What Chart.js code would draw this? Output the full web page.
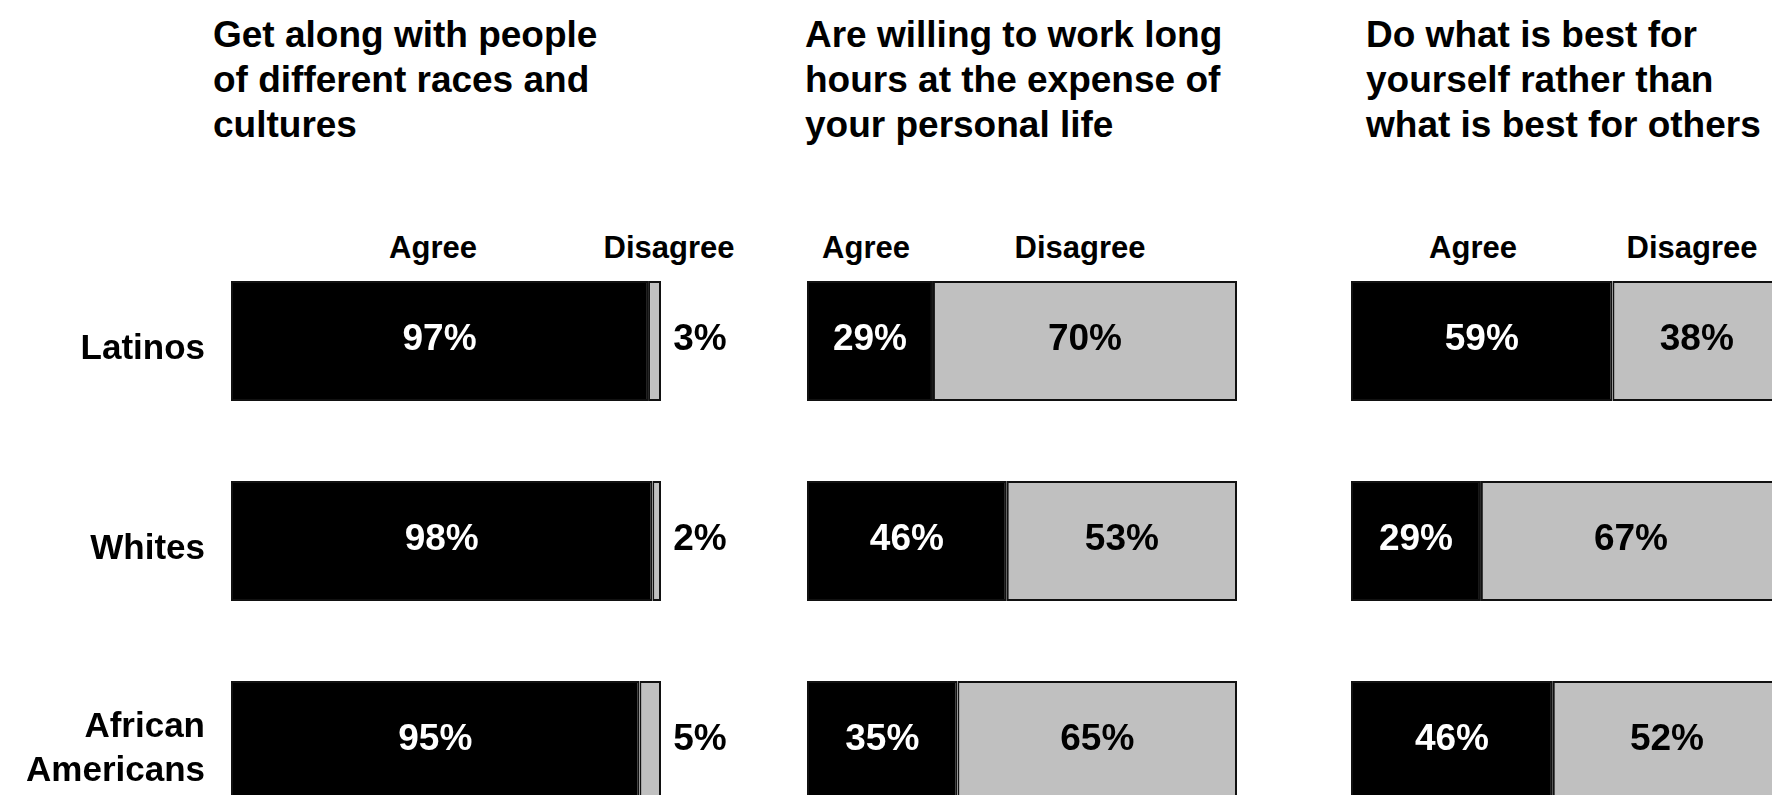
<!DOCTYPE html>
<html>
<head>
<meta charset="utf-8">
<script src="https://cdn.jsdelivr.net/npm/chart.js@4.4.1/dist/chart.umd.min.js"></script>
<style>
  html, body { margin: 0; padding: 0; background: #fff; overflow: hidden; }
  #stage { position: relative; width: 1772px; height: 795px; overflow: hidden; font-family: "Liberation Sans", Arial, sans-serif; }
  canvas { position: absolute; top: 0; }
  .title { position: absolute; top: 12px; font-weight: bold; font-size: 37px; line-height: 45px; color: #000; white-space: nowrap; }
  .head { position: absolute; top: 230px; font-weight: bold; font-size: 31px; line-height: 36px; color: #000; transform: translateX(-50%); white-space: nowrap; }
</style>
</head>
<body>
<div id="stage">
  <div class="title" style="left:213px">Get along with people<br>of different races and<br>cultures</div>
  <div class="title" style="left:805px">Are willing to work long<br>hours at the expense of<br>your personal life</div>
  <div class="title" style="left:1366px">Do what is best for<br>yourself rather than<br>what is best for others</div>

  <div class="head" style="left:433px">Agree</div>
  <div class="head" style="left:669px">Disagree</div>
  <div class="head" style="left:866px">Agree</div>
  <div class="head" style="left:1080px">Disagree</div>
  <div class="head" style="left:1473px">Agree</div>
  <div class="head" style="left:1692px">Disagree</div>

  <canvas id="c1" width="770" height="900" style="left:0px"></canvas>
  <canvas id="c2" width="480" height="900" style="left:780px"></canvas>
  <canvas id="c3" width="470" height="900" style="left:1320px"></canvas>
</div>

<script>
// Groups (rows)
const groups = ['Latinos', 'Whites', ['African', 'Americans']];

// Panel 1: Get along with people of different races and cultures
const agreeGetAlong = [97, 98, 95];
const disagreeGetAlong = [3, 2, 5];

// Panel 2: Are willing to work long hours at the expense of your personal life
const agreeLongHours = [29, 46, 35];
const disagreeLongHours = [70, 53, 65];

// Panel 3: Do what is best for yourself rather than what is best for others
const agreeBestSelf = [59, 29, 46];
const disagreeBestSelf = [38, 67, 52];

const FONT = '"Liberation Sans", Arial, sans-serif';

// bars fill the full width: each segment is its share of agree+disagree
function share(part, a, b) {
    return part.map((v, i) => v / (a[i] + b[i]) * 100);
}

// draw value labels on the bar segments
const valueLabels = {
    id: 'valueLabels',
    afterDatasetsDraw(chart) {
        const ctx = chart.ctx;
        ctx.save();
        ctx.font = 'bold 37px ' + FONT;
        ctx.textAlign = 'center';
        ctx.textBaseline = 'middle';
        chart.data.datasets.forEach((ds, di) => {
            chart.getDatasetMeta(di).data.forEach((bar, i) => {
                const txt = ds.raw[i] + '%';
                let x = (bar.x + bar.base) / 2;
                if (ds.outside) x = bar.x + 39;
                ctx.fillStyle = ds.labelColor;
                ctx.fillText(txt, x, bar.y - 1);
            });
        });
        ctx.restore();
    }
};

function makeChart(id, agree, disagree, opts) {
    const ctx = document.getElementById(id).getContext('2d');
    const yAxis = {
        stacked: true,
        display: opts.showGroups,
        grid: { display: false, drawTicks: false },
        border: { display: false },
        ticks: {
            color: '#000',
            padding: 26,
            labelOffset: 8,
            font: { family: FONT, size: 35, weight: 'bold', lineHeight: 1.25 }
        }
    };
    if (opts.showGroups) yAxis.afterFit = (scale) => { scale.width = 231; };

    return new Chart(ctx, {
        type: 'bar',
        data: {
            labels: groups,
            datasets: [{
                label: 'Agree',
                data: share(agree, agree, disagree),
                raw: agree,
                labelColor: '#fff',
                backgroundColor: '#000',
                borderColor: '#111',
                borderWidth: 2,
                borderSkipped: false
            }, {
                label: 'Disagree',
                data: share(disagree, agree, disagree),
                raw: disagree,
                labelColor: '#000',
                outside: opts.outside,
                backgroundColor: '#c0c0c0',
                borderColor: '#111',
                borderWidth: 2,
                borderSkipped: false
            }]
        },
        options: {
            indexAxis: 'y',
            responsive: false,
            animation: false,
            layout: { padding: opts.padding },
            datasets: { bar: { categoryPercentage: 1, barPercentage: 0.6 } },
            plugins: { legend: { display: false }, tooltip: { enabled: false } },
            scales: {
                x: { stacked: true, min: 0, max: 100, display: false },
                y: yAxis
            }
        },
        plugins: [valueLabels]
    });
}

makeChart('c1', agreeGetAlong, disagreeGetAlong,
    { showGroups: true, outside: true, padding: { left: 0, right: 109, top: 241, bottom: 59 } });
makeChart('c2', agreeLongHours, disagreeLongHours,
    { showGroups: false, outside: false, padding: { left: 27, right: 23, top: 241, bottom: 59 } });
makeChart('c3', agreeBestSelf, disagreeBestSelf,
    { showGroups: false, outside: false, padding: { left: 31, right: 9, top: 241, bottom: 59 } });
</script>
</body>
</html>
